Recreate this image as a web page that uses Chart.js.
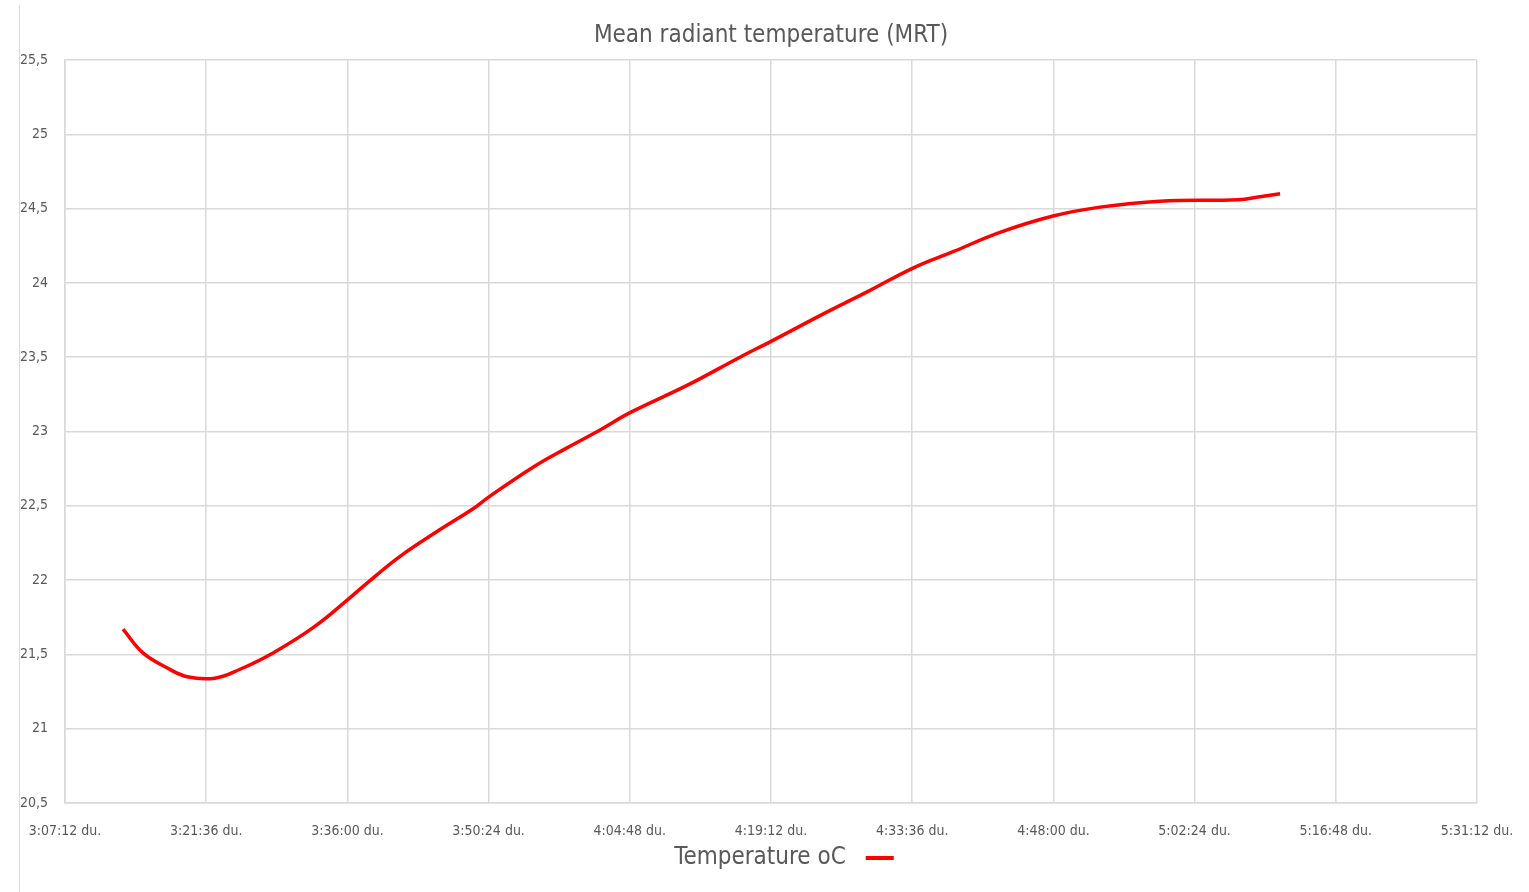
<!DOCTYPE html>
<html>
<head>
<meta charset="utf-8">
<script src="https://cdn.jsdelivr.net/npm/chart.js@4"></script>
<style>
  html, body { margin: 0; padding: 0; background: #fff; overflow: hidden; }
  #wrap { width: 1529px; height: 892px; position: relative; }
  canvas { display: block; }
</style>
</head>
<body>
<div id="wrap"><canvas id="grafico"></canvas></div>
<script>
const tiempos = ['3:13:07', '3:15:09', '3:17:36', '3:19:39', '3:22:30', '3:25:03', '3:28:25', '3:32:30',
    '3:36:04', '3:38:00', '3:41:22', '3:45:27', '3:48:49', '3:50:26', '3:54:56', '3:58:24',
    '4:01:46', '4:04:55', '4:10:38', '4:16:02', '4:19:18', '4:24:12', '4:29:18', '4:33:41',
    '4:37:46', '4:42:33', '4:47:58', '4:52:45', '4:58:52', '5:06:50', '5:09:04', '5:11:07'];
const temperaturas = [21.67, 21.51, 21.41, 21.35, 21.34, 21.40, 21.51, 21.68,
    21.87, 21.98, 22.16, 22.34, 22.48, 22.56, 22.76, 22.89,
    23.01, 23.13, 23.31, 23.50, 23.61, 23.78, 23.95, 24.10,
    24.21, 24.34, 24.45, 24.51, 24.55, 24.56, 24.58, 24.60];
const ejeXMin = '3:07:12';
const ejeXMax = '5:31:12';
const ejeXPaso = '0:14:24';
const ejeYMin = 20.5, ejeYMax = 25.5, ejeYPaso = 0.5;
const titulo = 'Mean radiant temperature (MRT)';
const serieNombre = 'Temperature oC';

function aSegundos(t) {
    const p = t.split(':').map(Number);
    return p[0] * 3600 + p[1] * 60 + p[2];
}
function aHora(s) {
    const h = Math.floor(s / 3600);
    const m = Math.floor((s % 3600) / 60);
    const sec = Math.round(s % 60);
    return h + ':' + String(m).padStart(2, '0') + ':' + String(sec).padStart(2, '0') + ' du.';
}

const fuente = "'Liberation Sans Narrow', 'DejaVu Sans Condensed', Roboto, sans-serif";
const gris = '#595959';

// frame line at the left edge, title centred over the plot and legend under the axis
const decoracion = {
    id: 'decoracion',
    beforeDraw(chart) {
        const ctx = chart.ctx;
        ctx.save();
        ctx.strokeStyle = '#d9d9d9';
        ctx.lineWidth = 1;
        ctx.beginPath();
        ctx.moveTo(19.5, 5);
        ctx.lineTo(19.5, chart.height);
        ctx.stroke();
        ctx.restore();
    },
    afterDraw(chart) {
        const ctx = chart.ctx;
        const area = chart.chartArea;
        const ds = chart.data.datasets[0];
        const centro = (area.left + area.right) / 2;
        ctx.save();
        ctx.font = '24px ' + fuente;
        ctx.fillStyle = gris;
        ctx.textBaseline = 'middle';
        ctx.textAlign = 'center';
        ctx.fillText(titulo, centro, 36);

        ctx.textAlign = 'left';
        const w = ctx.measureText(ds.label).width;
        const total = w + 20 + 28;
        const x0 = centro + 13 - total / 2;
        const y = 858;
        ctx.fillText(ds.label, x0, y);
        ctx.strokeStyle = ds.borderColor;
        ctx.lineWidth = 4;
        ctx.beginPath();
        ctx.moveTo(x0 + w + 20, y);
        ctx.lineTo(x0 + w + 48, y);
        ctx.stroke();
        ctx.restore();
    }
};

const ctx = document.getElementById('grafico').getContext('2d');
new Chart(ctx, {
    type: 'line',
    data: {
        datasets: [{
            label: serieNombre,
            data: tiempos.map((t, i) => ({ x: aSegundos(t), y: temperaturas[i] })),
            borderColor: '#ff0000',
            borderWidth: 3.5,
            pointRadius: 0,
            fill: false,
            tension: 0.4
        }]
    },
    options: {
        responsive: true,
        maintainAspectRatio: false,
        animation: false,
        layout: { padding: { left: 0, right: 52, top: 60, bottom: 50 } },
        plugins: {
            legend: { display: false },
            tooltip: { enabled: false },
            title: { display: false }
        },
        scales: {
            x: {
                type: 'linear',
                min: aSegundos(ejeXMin),
                max: aSegundos(ejeXMax),
                afterBuildTicks(scale) {
                    const ticks = [];
                    for (let v = aSegundos(ejeXMin); v <= aSegundos(ejeXMax); v += aSegundos(ejeXPaso)) {
                        ticks.push({ value: v });
                    }
                    scale.ticks = ticks;
                },
                afterFit(scale) {
                    scale.height = 39;
                    scale.paddingLeft = 0;
                    scale.paddingRight = 0;
                },
                grid: { color: '#d9d9d9', lineWidth: 1.5, drawTicks: false },
                border: { color: '#d9d9d9', width: 1.5 },
                ticks: {
                    color: gris,
                    font: { family: fuente, size: 14 },
                    padding: 20,
                    maxRotation: 0,
                    autoSkip: false,
                    callback: v => aHora(v)
                }
            },
            y: {
                min: ejeYMin,
                max: ejeYMax,
                afterFit(scale) { scale.width = 65; },
                grid: { color: '#d9d9d9', lineWidth: 1.5, drawTicks: false },
                border: { color: '#d9d9d9', width: 1.5 },
                ticks: {
                    stepSize: ejeYPaso,
                    color: gris,
                    font: { family: fuente, size: 14 },
                    padding: 17,
                    callback: v => String(v).replace('.', ',')
                }
            }
        }
    },
    plugins: [decoracion]
});
</script>
</body>
</html>
